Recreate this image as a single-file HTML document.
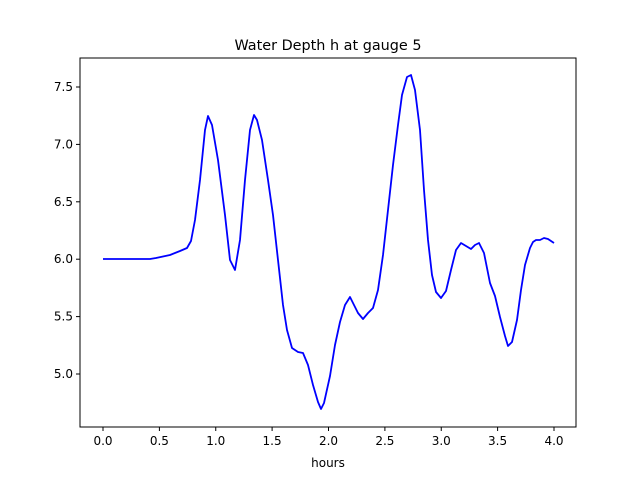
<!DOCTYPE html>
<html><head><style>body{margin:0;background:#fff}svg{font-family:"DejaVu Sans","Liberation Sans",sans-serif}</style></head><body>
<svg width="640" height="480" xmlns="http://www.w3.org/2000/svg">
<rect width="640" height="480" fill="#fff"/>
<text x="328" y="50" font-size="14.4" text-anchor="middle">Water Depth h at gauge 5</text>
<polyline fill="none" stroke="#0000ff" stroke-width="1.8" stroke-linejoin="round" points="103,259 150,259 156,258 170,255 180,251 187,248 191,241 195,220 200,180 205,130 208,116 212,125 218,160 225,215 230,260 235,270 240,240 245,180 250,130 254,115 257,120 262,140 268,180 273,215 278,260 283,305 287,330 292,348 298,352 303,353 308,365 313,385 318,402 321,409 324,403 330,376 335,345 340,322 345,305 350,297 354,305 358,313 363,319 368,313 373,308 378,290 383,255 388,210 393,165 398,125 402,95 407,77 411,75 415,90 420,130 424,190 428,240 432,275 436,292 441,298 446,291 451,270 456,250 461,243 466,246 471,249 475,245 479,243 484,253 490,283 495,296 500,317 505,336 508,346 512,342 517,320 521,290 525,265 530,248 533,242 536,240 540,240 544,238 548,239 554,243"/>
<rect x="80" y="58" width="496" height="369" fill="none" stroke="#000" stroke-width="1"/>
<g stroke="#000" stroke-width="1">
<line x1="103" y1="427" x2="103" y2="431"/><line x1="159.4" y1="427" x2="159.4" y2="431"/><line x1="215.75" y1="427" x2="215.75" y2="431"/><line x1="272.1" y1="427" x2="272.1" y2="431"/><line x1="328.5" y1="427" x2="328.5" y2="431"/><line x1="384.9" y1="427" x2="384.9" y2="431"/><line x1="441.25" y1="427" x2="441.25" y2="431"/><line x1="497.6" y1="427" x2="497.6" y2="431"/><line x1="554" y1="427" x2="554" y2="431"/>
<line x1="76" y1="87" x2="80" y2="87"/><line x1="76" y1="144.4" x2="80" y2="144.4"/><line x1="76" y1="201.8" x2="80" y2="201.8"/><line x1="76" y1="259.2" x2="80" y2="259.2"/><line x1="76" y1="316.6" x2="80" y2="316.6"/><line x1="76" y1="374" x2="80" y2="374"/>
</g>
<g font-size="12" text-anchor="middle">
<text x="103" y="445">0.0</text><text x="159.4" y="445">0.5</text><text x="215.75" y="445">1.0</text><text x="272.1" y="445">1.5</text><text x="328.5" y="445">2.0</text><text x="384.9" y="445">2.5</text><text x="441.25" y="445">3.0</text><text x="497.6" y="445">3.5</text><text x="554" y="445">4.0</text>
<text x="328" y="467">hours</text>
</g>
<g font-size="12" text-anchor="end">
<text x="73" y="91">7.5</text><text x="73" y="148.4">7.0</text><text x="73" y="205.8">6.5</text><text x="73" y="263.2">6.0</text><text x="73" y="320.6">5.5</text><text x="73" y="378">5.0</text>
</g>
</svg>
</body></html>
